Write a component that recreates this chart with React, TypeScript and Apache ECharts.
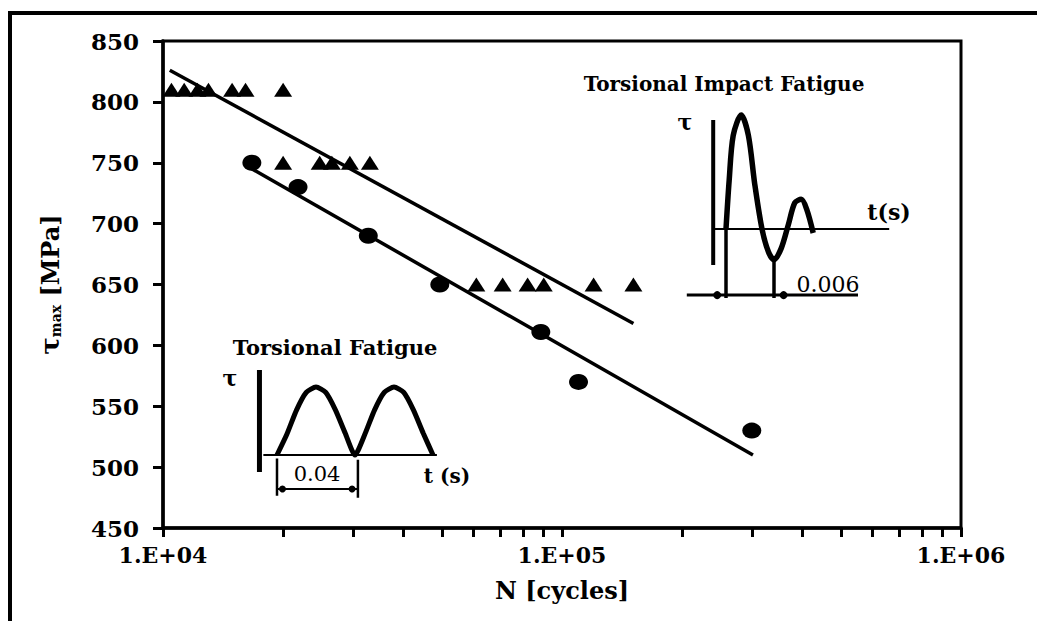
import React, { useEffect, useRef } from 'react';
import * as echarts from 'echarts';

const FONT = '"DejaVu Serif", "Liberation Serif", serif';

// ---- main S-N data ----
const impactN = [10500, 11300, 12200, 13000, 14900, 16100, 20000, 20000, 24700, 26500, 29400, 33000, 61000, 71000, 82000, 90000, 120000, 151000];
const impactTau = [810, 810, 810, 810, 810, 810, 810, 750, 750, 750, 750, 750, 650, 650, 650, 650, 650, 650];
const fatigueN = [16700, 21800, 32700, 49400, 88500, 110000, 299000];
const fatigueTau = [750, 730, 690, 650, 611, 570, 530];
const impactFitN = [10400, 151000];
const impactFitTau = [826, 618];
const fatigueFitN = [16100, 301000];
const fatigueFitTau = [748, 510];

const xTickValues = [10000, 20000, 30000, 40000, 50000, 60000, 70000, 80000, 90000, 100000, 200000, 300000, 400000, 500000, 600000, 700000, 800000, 900000, 1000000];
const xLabelValues = [10000, 100000, 1000000];
const xLabelTexts = ['1.E+04', '1.E+05', '1.E+06'];
const yMin = 450;
const yMax = 850;
const yStep = 50;

// ---- inset A: torsional fatigue waveform (t in s, tau normalised) ----
const waveAT = [0, 0.005, 0.01, 0.015, 0.02, 0.025, 0.03, 0.035, 0.04, 0.045, 0.05, 0.055, 0.06, 0.065, 0.07, 0.075, 0.08];
const waveATau = [0, 0.3, 0.66, 0.92, 1, 0.92, 0.66, 0.32, 0, 0.3, 0.66, 0.92, 1, 0.92, 0.66, 0.32, 0];
const axisAT = [-0.009, -0.009];
const axisATau = [-0.25, 1.25];
const baseAT = [-0.007, 0.082];
const dimAPeriod = 0.0415;

// ---- inset B: torsional impact waveform ----
const waveBT = [0, 0.0004, 0.0009, 0.0019, 0.0028, 0.0036, 0.0045, 0.0053, 0.006, 0.0069, 0.0078, 0.0086, 0.0094, 0.0101, 0.0109];
const waveBTau = [0, 0.43, 0.82, 1.0, 0.82, 0.39, 0, -0.2, -0.27, -0.17, 0.04, 0.23, 0.26, 0.17, -0.035];
const axisBT = [-0.0016, -0.0016];
const axisBTau = [-0.316, 0.956];
const baseBT = [-0.0015, 0.0204];
const dimBT = 0.006;

const zip = (a: number[], b: number[]) => a.map((v, i) => [v, b[i]]);

function seg(grid: number, pts: number[][], width: number, extra: any = {}) {
  return {
    type: 'line',
    xAxisIndex: grid,
    yAxisIndex: grid,
    data: pts,
    symbol: 'none',
    silent: true,
    lineStyle: { color: '#000', width },
    z: 4,
    ...extra,
  };
}

function hiddenX(gridIndex: number, min: number, max: number) {
  return { type: 'value', gridIndex, min, max, show: false };
}

export default function App() {
  const ref = useRef<HTMLDivElement>(null);
  useEffect(() => {
    document.body.style.margin = '0';
    const chart = echarts.init(ref.current!, null, { renderer: 'svg' });
    const txt = (text: string, x: number, y: number, size: number, weight = 'bold') => ({
      type: 'text',
      x,
      y,
      style: { text, fontFamily: FONT, fontSize: size, fontWeight: weight, fill: '#000', align: 'center', verticalAlign: 'middle' },
      z: 10,
    });
    chart.setOption({
      animation: false,
      backgroundColor: '#fff',
      grid: [
        { left: 163, top: 41, width: 798, height: 487, show: true, borderColor: '#000', borderWidth: 3, containLabel: false, outerBoundsMode: 'none' },
        { left: 259.45, top: 366.6, width: 183.3, height: 136, containLabel: false, outerBoundsMode: 'none' },
        { left: 682, top: 103.6, width: 216, height: 205.2, containLabel: false, outerBoundsMode: 'none' },
      ],
      xAxis: [
        {
          type: 'log',
          logBase: 10,
          gridIndex: 0,
          min: 10000,
          max: 1000000,
          name: 'N [cycles]',
          nameLocation: 'middle',
          nameGap: 50,
          nameTextStyle: { fontFamily: FONT, fontSize: 24, fontWeight: 'bold', color: '#000' },
          axisLine: { onZero: false, lineStyle: { color: '#000', width: 3.5 } },
          axisTick: { show: true, customValues: xTickValues, length: 9, lineStyle: { color: '#000', width: 3 } },
          axisLabel: {
            customValues: xLabelValues,
            formatter: (v: number) => xLabelTexts[Math.round(Math.log10(v)) - 4],
            fontFamily: FONT,
            fontSize: 22,
            fontWeight: 'bold',
            color: '#000',
            margin: 16,
          },
          splitLine: { show: false },
          minorTick: { show: false },
        },
        hiddenX(1, -0.009, 0.085),
        hiddenX(2, -0.0055, 0.0215),
      ],
      yAxis: [
        {
          type: 'value',
          gridIndex: 0,
          min: yMin,
          max: yMax,
          interval: yStep,
          name: '{a|τ}{b|max} [MPa]',
          nameLocation: 'middle',
          nameGap: 100,
          nameTextStyle: {
            fontFamily: FONT,
            fontSize: 24,
            fontWeight: 'bold',
            color: '#000',
            rich: {
              a: { fontFamily: FONT, fontSize: 26, fontWeight: 'bold', color: '#000' },
              b: { fontFamily: FONT, fontSize: 14, fontWeight: 'bold', color: '#000', verticalAlign: 'bottom', padding: [12, 0, 0, 0] },
            },
          },
          axisLine: { show: true, onZero: false, lineStyle: { color: '#000', width: 3.5 } },
          axisTick: { show: true, length: 10, lineStyle: { color: '#000', width: 3 } },
          axisLabel: { fontFamily: FONT, fontSize: 23, fontWeight: 'bold', color: '#000', margin: 24 },
          splitLine: { show: false },
        },
        { type: 'value', gridIndex: 1, min: -0.7, max: 1.3, show: false },
        { type: 'value', gridIndex: 2, min: -0.7, max: 1.1, show: false },
      ],
      series: [
        seg(0, zip(impactFitN, impactFitTau), 3.5),
        seg(0, zip(fatigueFitN, fatigueFitTau), 3.5),
        {
          type: 'scatter',
          xAxisIndex: 0,
          yAxisIndex: 0,
          data: zip(impactN, impactTau),
          symbol: 'triangle',
          symbolSize: [18, 14],
          itemStyle: { color: '#000', opacity: 1 },
          z: 5,
        },
        {
          type: 'scatter',
          xAxisIndex: 0,
          yAxisIndex: 0,
          data: zip(fatigueN, fatigueTau),
          symbol: 'circle',
          symbolSize: [19, 16],
          itemStyle: { color: '#000', opacity: 1 },
          z: 5,
        },
        // inset A
        seg(1, zip(waveAT, waveATau), 5, { smooth: 0.2 }),
        seg(1, zip(axisAT, axisATau), 5),
        seg(1, zip(baseAT, [0, 0]), 2),
        seg(1, [[0, -0.05], [0, -0.6]], 2.5),
        seg(1, [[dimAPeriod, -0.07], [dimAPeriod, -0.63]], 2.5),
        seg(1, [[0, -0.5], [dimAPeriod, -0.5]], 2),
        {
          type: 'scatter',
          xAxisIndex: 1,
          yAxisIndex: 1,
          data: [[0.0028, -0.5], [0.0385, -0.5]],
          symbol: 'circle',
          symbolSize: 7,
          itemStyle: { color: '#000', opacity: 1 },
          silent: true,
          z: 5,
        },
        // inset B
        seg(2, zip(waveBT, waveBTau), 5.5, { smooth: 0.3 }),
        seg(2, zip(axisBT, axisBTau), 4),
        seg(2, zip(baseBT, [0, 0]), 2),
        seg(2, [[0, 0], [0, -0.605]], 3.5),
        seg(2, [[dimBT, -0.27], [dimBT, -0.605]], 3.5),
        seg(2, [[-0.0049, -0.58], [0.0165, -0.58]], 3),
        {
          type: 'scatter',
          xAxisIndex: 2,
          yAxisIndex: 2,
          data: [[-0.0011, -0.58], [0.0072, -0.58]],
          symbol: 'circle',
          symbolSize: 8,
          itemStyle: { color: '#000', opacity: 1 },
          silent: true,
          z: 5,
        },
      ],
      graphic: [
        { type: 'line', shape: { x1: 10, y1: 13, x2: 1037, y2: 13 }, style: { stroke: '#000', lineWidth: 4 }, z: 10 },
        { type: 'line', shape: { x1: 10, y1: 11, x2: 10, y2: 621 }, style: { stroke: '#000', lineWidth: 4 }, z: 10 },
        txt('Torsional Fatigue', 335, 347, 21),
        txt('τ', 230, 378, 22),
        txt('0.04', 317, 474, 21, 'normal'),
        txt('t (s)', 447, 476, 20),
        txt('Torsional Impact Fatigue', 724, 84, 20),
        txt('τ', 685, 122, 22),
        txt('t(s)', 889, 212, 22),
        txt('0.006', 828, 284, 22, 'normal'),
      ],
    });
    return () => chart.dispose();
  }, []);
  return <div ref={ref} style={{ width: 1037, height: 621 }} />;
}
